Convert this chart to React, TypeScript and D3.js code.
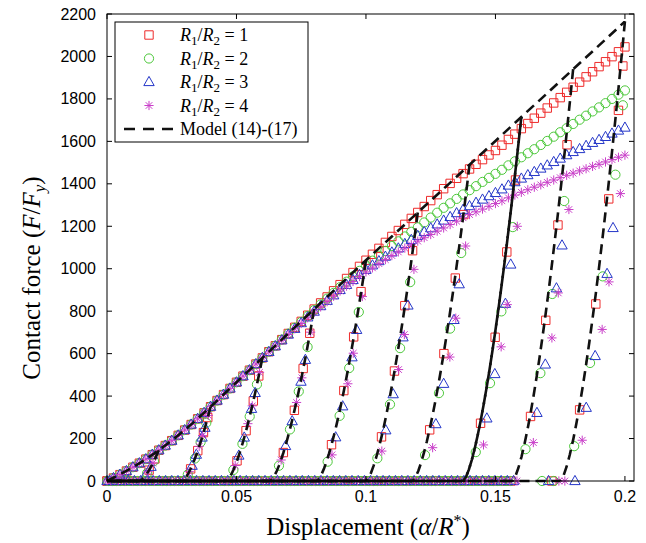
import React from 'react';
import * as d3 from 'd3';

const W = 646;
const H = 543;

// ---------- axes ----------
const xTicks = [0, 0.05, 0.1, 0.15, 0.2];
const xTickLabels = ['0', '0.05', '0.1', '0.15', '0.2'];
const yTicks = [0, 200, 400, 600, 800, 1000, 1200, 1400, 1600, 1800, 2000, 2200];

// ---------- loading envelope samples (displacement grid step 0.0025) ----------
const envelopeX = d3.range(81).map((i) => i * 0.0025);
const envRed = [
  0, 14, 30, 47, 65, 84, 103, 124, 145, 167, 190, 215, 240, 266, 293, 321, 350, 379, 407, 436, 465, 494, 522, 551,
  580, 609, 637, 666, 695, 724, 752, 781, 810, 839, 867, 896, 925, 954, 982, 1011, 1040,
  1068, 1096, 1124, 1152, 1180, 1209, 1237, 1265, 1293, 1321, 1349, 1377,
  1402, 1426, 1448, 1470, 1492, 1514, 1536, 1557, 1582, 1609, 1634, 1660, 1684, 1709, 1733, 1757,
  1781, 1806, 1831, 1855, 1879, 1904, 1928, 1952, 1975, 1999, 2022, 2045,
];
const envGreen = [
  0, 14, 30, 47, 65, 84, 103, 124, 145, 167, 190, 215, 240, 266, 293, 321, 350, 379, 407, 436, 465, 494, 522, 551,
  580, 609, 637, 666, 694, 722, 749, 777, 805, 832, 859, 886, 913, 939, 964, 990, 1015,
  1038, 1061, 1084, 1107, 1129, 1152, 1174, 1195, 1218, 1241, 1264, 1287,
  1308, 1329, 1350, 1370, 1389, 1409, 1428, 1447, 1466, 1487, 1506, 1525, 1544, 1563, 1583, 1602,
  1622, 1643, 1662, 1682, 1702, 1721, 1741, 1760, 1780, 1800, 1820, 1840,
];
const envBlue = [
  0, 14, 30, 47, 65, 84, 103, 124, 145, 167, 190, 215, 240, 266, 293, 321, 350, 379, 407, 436, 465, 494, 522, 551,
  580, 608, 635, 663, 690, 717, 744, 771, 798, 824, 849, 875, 900, 924, 947, 971, 995,
  1016, 1036, 1057, 1077, 1096, 1117, 1136, 1155, 1173, 1191, 1209, 1227,
  1244, 1262, 1278, 1295, 1311, 1326, 1342, 1357, 1374, 1392, 1408, 1425, 1441, 1456, 1472, 1487,
  1503, 1519, 1535, 1550, 1564, 1579, 1593, 1607, 1621, 1637, 1651, 1665,
];
const envMagenta = [
  0, 14, 30, 47, 65, 84, 103, 124, 145, 167, 190, 215, 240, 266, 293, 321, 350, 379, 407, 436, 465, 494, 522, 551,
  580, 608, 635, 663, 690, 717, 742, 769, 795, 820, 845, 870, 895, 918, 940, 963, 985,
  1004, 1024, 1043, 1062, 1079, 1097, 1113, 1130, 1146, 1161, 1177, 1192,
  1208, 1224, 1240, 1255, 1268, 1281, 1294, 1307, 1320, 1334, 1347, 1360, 1372, 1384, 1395, 1407,
  1418, 1429, 1440, 1450, 1461, 1471, 1482, 1492, 1503, 1514, 1525, 1535,
];

// ---------- unloading / reloading samples [displacement, force] ----------
const unloadRed: [number, number][] = [
  [0.01625, 51], [0.0185, 104],
  [0.0323, 57], [0.03505, 143], [0.03725, 228], [0.0389, 299],
  [0.0502, 95], [0.0537, 237], [0.0565, 377], [0.0586, 495],
  [0.0681, 134], [0.07235, 333], [0.07575, 530], [0.0783, 696],
  [0.0867, 171], [0.09145, 426], [0.09525, 679], [0.0981, 892],
  [0.106, 208], [0.111, 518], [0.115, 826], [0.118, 1085],
  [0.1246, 241], [0.1301, 600], [0.1345, 956], [0.1378, 1255],
  [0.14425, 272], [0.14988, 677], [0.15438, 1079], [0.15775, 1418],
  [0.16355, 304], [0.16943, 757], [0.17413, 1206], [0.17765, 1584],
  [0.1825, 335], [0.18875, 834], [0.19375, 1329], [0.1975, 1746], [0.1992, 1955],
];
const unloadGreen: [number, number][] = [
  [0.0155, 37], [0.01813, 94],
  [0.0312, 31], [0.03395, 106], [0.03615, 183], [0.03835, 274],
  [0.0488, 52], [0.0523, 175], [0.0551, 304], [0.0579, 455],
  [0.0664, 72], [0.07065, 243], [0.07405, 422], [0.07745, 631],
  [0.0852, 91], [0.08983, 307], [0.09353, 532], [0.09723, 796],
  [0.1044, 107], [0.10928, 361], [0.11318, 626], [0.11708, 937],
  [0.1228, 122], [0.12818, 414], [0.13248, 718], [0.13678, 1074],
  [0.1424, 136], [0.1479, 461], [0.1523, 799], [0.1567, 1196],
  [0.1616, 150], [0.16735, 508], [0.17195, 881], [0.17655, 1319],
  [0.1804, 164], [0.18653, 556], [0.19143, 964], [0.19633, 1443], [0.1992, 1770],
];
const unloadBlue: [number, number][] = [
  [0.01475, 24], [0.017, 67],
  [0.03285, 72], [0.0345, 124], [0.0367, 205], [0.0378, 251],
  [0.0509, 120], [0.053, 205], [0.0558, 340], [0.0572, 415],
  [0.06895, 165], [0.0715, 282], [0.0749, 468], [0.0766, 571],
  [0.0883, 206], [0.091, 352], [0.0946, 583], [0.0964, 712],
  [0.10765, 239], [0.1105, 409], [0.1143, 677], [0.1162, 827],
  [0.127, 268], [0.13, 458], [0.134, 759], [0.136, 927],
  [0.14668, 295], [0.14975, 504], [0.15385, 835], [0.1559, 1020],
  [0.16603, 321], [0.16925, 549], [0.17355, 908], [0.1757, 1110],
  [0.18505, 345], [0.1885, 589], [0.1931, 976], [0.1954, 1192],
];
const unloadMagenta: [number, number][] = [
  [0.01588, 44], [0.01775, 85],
  [0.03175, 44], [0.0356, 163], [0.03692, 214], [0.03912, 309],
  [0.0495, 73], [0.0544, 270], [0.0561, 354], [0.0589, 512],
  [0.06725, 99], [0.0732, 370], [0.07524, 486], [0.07864, 701],
  [0.08688, 123], [0.093, 458], [0.0951, 602], [0.0986, 869],
  [0.10613, 141], [0.1126, 525], [0.11482, 690], [0.11852, 997],
  [0.12575, 157], [0.1324, 584], [0.13468, 767], [0.13848, 1107],
  [0.14538, 170], [0.1522, 632], [0.15454, 831], [0.15844, 1200],
  [0.16463, 181], [0.1718, 674], [0.17426, 886], [0.17836, 1279],
  [0.1835, 192], [0.1912, 714], [0.19384, 938], [0.19824, 1354],
];

// ---------- zero-force (separated) samples ----------
const zeroStart = [0, 0.0005, 0.001, 0.0015];
const zeroEnd = [0.158, 0.157, 0.159, 0.16];
const zeroStep = [0.002, 0.0016, 0.0024, 0.0028];
const zeroExtraRed = [0.1718];
const zeroExtraGreen = [0.168, 0.1725];
const zeroExtraBlue = [0.1705, 0.1807];
const zeroExtraMagenta = [0.1745, 0.1768];

// ---------- model (14)-(17) ----------
const modelEnvX = [0, 0.01, 0.02, 0.03, 0.04, 0.05, 0.06, 0.07, 0.08, 0.09, 0.1, 0.11, 0.12, 0.13, 0.14, 0.15, 0.16, 0.17, 0.18, 0.19, 0.2];
const modelEnvF = [0, 65, 145, 240, 350, 465, 580, 695, 810, 925, 1040, 1152, 1265, 1377, 1490, 1602, 1715, 1827, 1940, 2052, 2165];
const cycleMaxX = [0.02, 0.04, 0.06, 0.08, 0.1, 0.12, 0.14, 0.16, 0.18, 0.2];
const cycleMaxF = [145, 350, 580, 810, 1040, 1265, 1490, 1715, 1940, 2165];
const cycleResidual = [0.0125, 0.029, 0.046, 0.063, 0.081, 0.1, 0.118, 0.1375, 0.1565, 0.175];
const unloadExponent = 1.5;

const COLORS = { red: '#ee2a2a', green: '#4cc83a', blue: '#2436c8', magenta: '#c93fc9' };

const xS = d3.scaleLinear().domain([0, 0.2035]).range([107, 634]);
const yS = d3.scaleLinear().domain([0, 2200]).range([481, 14]);

type MType = 'square' | 'circle' | 'triangle' | 'star';

function markerPath(t: MType, x: number, y: number): string {
  if (t === 'square') return `M${x - 4.2},${y - 4.2}h8.4v8.4h-8.4Z`;
  if (t === 'circle') {
    const r = 4.6;
    return `M${x - r},${y}a${r},${r} 0 1,0 ${2 * r},0a${r},${r} 0 1,0 ${-2 * r},0`;
  }
  if (t === 'triangle') return `M${x},${y - 5.6}L${x + 5.2},${y + 3.6}L${x - 5.2},${y + 3.6}Z`;
  const a = 4.6, b = 3.3;
  return `M${x - a},${y}H${x + a}M${x},${y - a}V${y + a}M${x - b},${y - b}L${x + b},${y + b}M${x - b},${y + b}L${x + b},${y - b}`;
}

function Series({ t, color, env, unload, zi, extra }: { t: MType; color: string; env: number[]; unload: [number, number][]; zi: number; extra: number[] }) {
  const pts: [number, number][] = [];
  const zeros = d3.range(zeroStart[zi], zeroEnd[zi], zeroStep[zi]).concat(extra);
  zeros.forEach((x) => pts.push([x, 0]));
  envelopeX.forEach((x, i) => pts.push([x, env[i]]));
  unload.forEach((p) => pts.push(p));
  const d = pts.map(([x, f]) => markerPath(t, xS(x), yS(f))).join('');
  return <path d={d} fill="none" stroke={color} strokeWidth={1} />;
}

function App() {
  const lineGen = d3.line<[number, number]>().x((p) => xS(p[0])).y((p) => yS(p[1]));
  const envPath = d3.line<number>().x((_, i) => xS(modelEnvX[i])).y((f) => yS(f)).curve(d3.curveMonotoneX)(modelEnvF) || '';
  const us = d3.range(0, 1.0001, 0.05);
  const unloadPaths = cycleMaxX.map((xm, k) => {
    const xp = cycleResidual[k];
    const pts: [number, number][] = us.map((u) => [xm - (xm - xp) * u, cycleMaxF[k] * Math.pow(1 - u, unloadExponent)]);
    return lineGen(pts) || '';
  });
  const zeroPaths = cycleResidual.map((xp) => lineGen([[xp, 0], [0, 0]]) || '');
  const dash = '10,6';
  const sw = 2.6;

  const legendRows = [
    { t: 'square' as MType, c: COLORS.red, n: '1' },
    { t: 'circle' as MType, c: COLORS.green, n: '2' },
    { t: 'triangle' as MType, c: COLORS.blue, n: '3' },
    { t: 'star' as MType, c: COLORS.magenta, n: '4' },
  ];
  const rowY = [35, 58.5, 82, 105.5, 129];
  const serif = '"Liberation Serif", "Times New Roman", serif';
  const sans = '"Liberation Sans", Arial, Helvetica, sans-serif';

  return (
    <svg width={W} height={H} style={{ position: 'absolute', left: 0, top: 0, background: '#fff' }} xmlns="http://www.w3.org/2000/svg">
      <rect x={0} y={0} width={W} height={H} fill="#fff" />
      {/* data markers */}
      <Series t="square" color={COLORS.red} env={envRed} unload={unloadRed} zi={0} extra={zeroExtraRed} />
      <Series t="circle" color={COLORS.green} env={envGreen} unload={unloadGreen} zi={1} extra={zeroExtraGreen} />
      <Series t="triangle" color={COLORS.blue} env={envBlue} unload={unloadBlue} zi={2} extra={zeroExtraBlue} />
      <Series t="star" color={COLORS.magenta} env={envMagenta} unload={unloadMagenta} zi={3} extra={zeroExtraMagenta} />

      {/* model */}
      <g fill="none" stroke="#111" strokeWidth={sw} strokeDasharray={dash}>
        <path d={envPath} />
        {unloadPaths.map((d, i) => <path key={'u' + i} d={d} />)}
        <path d={unloadPaths[7]} strokeDashoffset={8} />
        {zeroPaths.map((d, i) => <path key={'z' + i} d={d} strokeDashoffset={i * 3.7} />)}
      </g>

      {/* axes box */}
      <rect x={107} y={14} width={527} height={467} fill="none" stroke="#000" strokeWidth={1} />
      {yTicks.map((v) => (
        <g key={'yt' + v}>
          <line x1={107} x2={112} y1={yS(v)} y2={yS(v)} stroke="#000" />
          <line x1={634} x2={629} y1={yS(v)} y2={yS(v)} stroke="#000" />
          <text x={96} y={yS(v) + 5.5} textAnchor="end" fontFamily={sans} fontSize={16}>{v}</text>
        </g>
      ))}
      {xTicks.map((v, i) => (
        <g key={'xt' + v}>
          <line x1={xS(v)} x2={xS(v)} y1={481} y2={476} stroke="#000" />
          <line x1={xS(v)} x2={xS(v)} y1={14} y2={19} stroke="#000" />
          <text x={xS(v)} y={502} textAnchor="middle" fontFamily={sans} fontSize={16}>{xTickLabels[i]}</text>
        </g>
      ))}

      {/* axis labels */}
      <text x={368} y={535} textAnchor="middle" fontFamily={serif} fontSize={25}>
        Displacement (<tspan fontStyle="italic">α</tspan>/<tspan fontStyle="italic">R</tspan>
        <tspan dy={-9} fontSize={16}>*</tspan>
        <tspan dy={9}>)</tspan>
      </text>
      <text transform="translate(40,278) rotate(-90)" textAnchor="middle" fontFamily={serif} fontSize={25}>
        Contact force (<tspan fontStyle="italic">F</tspan>/<tspan fontStyle="italic">F</tspan>
        <tspan dy={5} fontSize={17} fontStyle="italic">y</tspan>
        <tspan dy={-5}>)</tspan>
      </text>

      {/* legend */}
      <rect x={115} y={22} width={193} height={120} fill="#fff" stroke="#000" strokeWidth={1} />
      {legendRows.map((r, i) => (
        <g key={'lg' + i}>
          <path d={markerPath(r.t, 149, rowY[i])} fill="none" stroke={r.c} strokeWidth={1} />
          <text x={180} y={rowY[i] + 6} fontFamily={serif} fontSize={18}>
            <tspan fontStyle="italic">R</tspan>
            <tspan dy={4} fontSize={13}>1</tspan>
            <tspan dy={-4}>/</tspan>
            <tspan fontStyle="italic">R</tspan>
            <tspan dy={4} fontSize={13}>2</tspan>
            <tspan dy={-4}>{' = ' + r.n}</tspan>
          </text>
        </g>
      ))}
      <line x1={124} x2={174} y1={rowY[4]} y2={rowY[4]} stroke="#111" strokeWidth={sw} strokeDasharray="11,8" />
      <text x={180} y={rowY[4] + 6} fontFamily={serif} fontSize={18}>Model (14)-(17)</text>
    </svg>
  );
}

export default App;
